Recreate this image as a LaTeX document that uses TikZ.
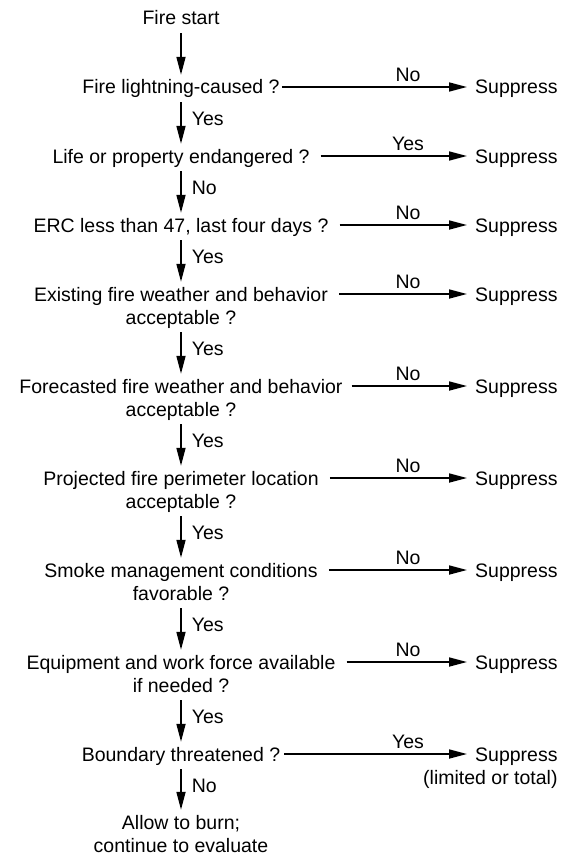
\documentclass[tikz,border=0pt]{standalone}
\usepackage{fontspec}
\setmainfont{Liberation Sans}
\usetikzlibrary{arrows.meta,calc}
\begin{document}
\begin{tikzpicture}[x=1pt,y=-1pt,
  txt/.style={inner sep=0pt, font=\fontsize{19.5}{23}\selectfont,
              text height=14pt, text depth=0pt},
  flow/.style={line width=1.7pt, -{Triangle[length=18pt,width=9pt]}},
  down/.style={flow, shorten <=8pt, shorten >=5pt},
  across/.style={flow, shorten <=11pt, shorten >=8pt},
  vlab/.style={txt, anchor=west, xshift=10pt, yshift=3pt},
  hlab/.style={txt, anchor=south},
  ans/.style={txt, anchor=west}]
\useasboundingbox (0,0) rectangle (560,856);

% decision column
\node[txt] (start) at (181,18)  {Fire start};
\node[txt] (q1)    at (181,87)  {Fire lightning-caused ?};
\node[txt] (q2)    at (181,156) {Life or property endangered ?};
\node[txt] (q3)    at (181,225) {ERC less than 47, last four days ?};
\node[txt] (q4a)   at (181,294) {Existing fire weather and behavior};
\node[txt] (q4b)   at (181,317) {acceptable ?};
\node[txt] (q5a)   at (181,386) {Forecasted fire weather and behavior};
\node[txt] (q5b)   at (181,409) {acceptable ?};
\node[txt] (q6a)   at (181,478) {Projected fire perimeter location};
\node[txt] (q6b)   at (181,501) {acceptable ?};
\node[txt] (q7a)   at (181,570) {Smoke management conditions};
\node[txt] (q7b)   at (181,593) {favorable ?};
\node[txt] (q8a)   at (181,662) {Equipment and work force available};
\node[txt] (q8b)   at (181,685) {if needed ?};
\node[txt] (q9)    at (181,754) {Boundary threatened ?};
\node[txt] (endA)  at (181,822) {Allow to burn;};
\node[txt] (endB)  at (181,845) {continue to evaluate};

% outcomes on the right
\node[ans] (s1) at (475,87)  {Suppress};
\node[ans] (s2) at (475,156) {Suppress};
\node[ans] (s3) at (475,225) {Suppress};
\node[ans] (s4) at (475,294) {Suppress};
\node[ans] (s5) at (475,386) {Suppress};
\node[ans] (s6) at (475,478) {Suppress};
\node[ans] (s7) at (475,570) {Suppress};
\node[ans] (s8) at (475,662) {Suppress};
\node[ans] (s9) at (475,754) {Suppress};
\node[txt, anchor=east] (s9b) at ($(s9.east)+(0,23)$) {(limited or total)};

% main flow
\draw[down] (start) -- (q1);
\draw[down] (q1)  -- node[vlab] (l1) {Yes} (q2);
\draw[down] (q2)  -- node[vlab] (l2) {No}  (q3);
\draw[down] (q3)  -- node[vlab] (l3) {Yes} (q4a);
\draw[down] (q4b) -- node[vlab] (l4) {Yes} (q5a);
\draw[down] (q5b) -- node[vlab] (l5) {Yes} (q6a);
\draw[down] (q6b) -- node[vlab] (l6) {Yes} (q7a);
\draw[down] (q7b) -- node[vlab] (l7) {Yes} (q8a);
\draw[down] (q8b) -- node[vlab] (l8) {Yes} (q9);
\draw[down] (q9)  -- node[vlab] (l9) {No}  (endA);

% branches to suppression
\draw[across, shorten <=2pt] (q1) -- (s1);
\draw[across] (q2)  -- (s2);
\draw[across] (q3)  -- (s3);
\draw[across] (q4a) -- (s4);
\draw[across, shorten <=9pt] (q5a) -- (s5);
\draw[across] (q6a) -- (s6);
\draw[across] (q7a) -- (s7);
\draw[across] (q8a) -- (s8);
\draw[across, shorten <=4pt] (q9) -- (s9);

\node[hlab] (b1) at (408,82)  {No};
\node[hlab] (b2) at (408,151) {Yes};
\node[hlab] (b3) at (408,220) {No};
\node[hlab] (b4) at (408,289) {No};
\node[hlab] (b5) at (408,381) {No};
\node[hlab] (b6) at (408,473) {No};
\node[hlab] (b7) at (408,565) {No};
\node[hlab] (b8) at (408,657) {No};
\node[hlab] (b9) at (408,749) {Yes};
\end{tikzpicture}
\end{document}
